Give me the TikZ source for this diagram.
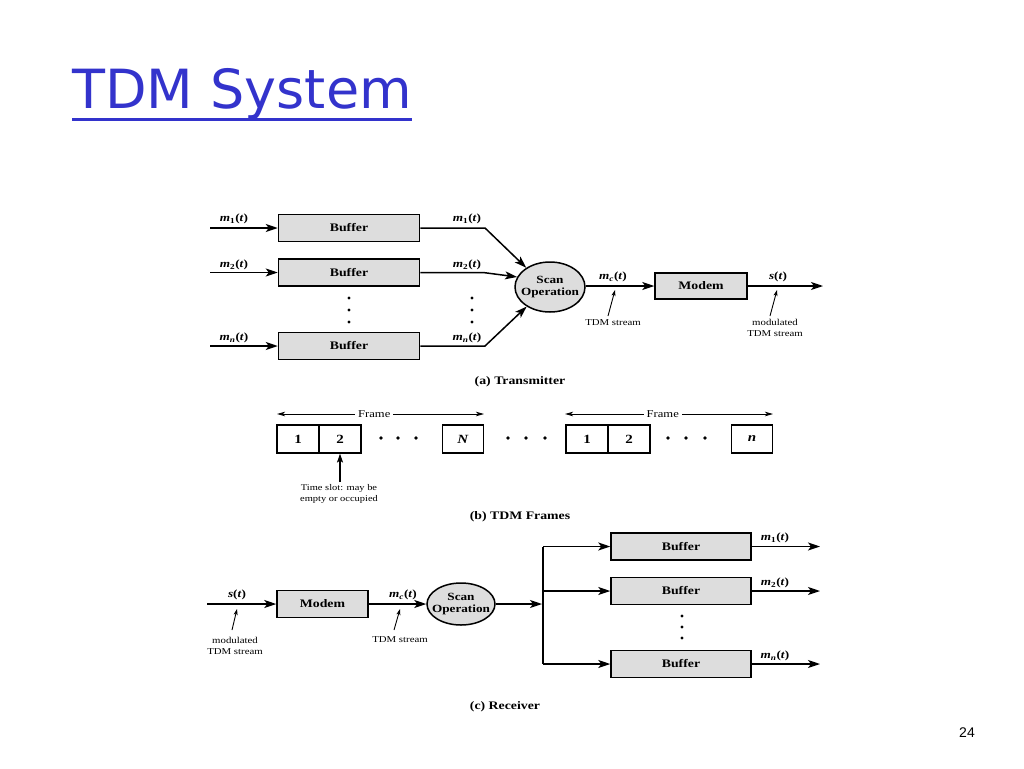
\documentclass[tikz,border=0pt]{standalone}
\usepackage{fontspec}
\setmainfont{Liberation Serif}
\newfontfamily\tf[FakeStretch=1.2]{Liberation Serif}
\newfontfamily\titlefont{DejaVu Sans}
\newfontfamily\pgfont{Liberation Sans}
\usetikzlibrary{arrows.meta,shapes.geometric}
\definecolor{boxgray}{RGB}{221,221,221}
\definecolor{titleblue}{RGB}{51,51,204}
\newcommand{\msig}[1]{\textbf{\textit{m}\textsubscript{#1}(\textit{t})}}
\begin{document}
\begin{tikzpicture}[x=1pt,y=-1pt,
 buf/.style={draw,line width=1.5pt,fill=boxgray,minimum width=141pt,minimum height=27pt,inner sep=0pt,font=\tf\bfseries\fontsize{11.5}{12}\selectfont},
 modembox/.style={draw,line width=1.5pt,fill=boxgray,minimum width=92pt,minimum height=26pt,inner sep=0pt,font=\tf\bfseries\fontsize{11.5}{12}\selectfont},
 scanop/.style={draw,ellipse,line width=1.5pt,fill=boxgray,inner xsep=-5pt,inner ysep=0pt,align=center,font=\tf\bfseries\fontsize{11}{11.5}\selectfont},
 slotbox/.style={draw,line width=1.1pt,minimum width=42pt,minimum height=28pt,inner sep=0pt,font=\tf\bfseries\fontsize{12.5}{13}\selectfont},
 lab/.style={inner sep=0pt,font=\tf\fontsize{11}{12}\selectfont},
 smalltxt/.style={inner sep=0pt,align=center,font=\tf\fontsize{9}{11}\selectfont},
 captxt/.style={inner sep=0pt,font=\tf\bfseries\fontsize{11.5}{13}\selectfont},
 plainline/.style={line width=1.5pt},
 arr/.style={line width=1.5pt,-{Stealth[length=12pt,width=8pt,inset=3pt]}},
 ann/.style={line width=0.9pt,-{Stealth[length=6pt,width=4pt,inset=1.5pt]}},
 farr/.style={line width=0.9pt,{Stealth[length=8pt,width=4.5pt,inset=2pt]}-{Stealth[length=8pt,width=4.5pt,inset=2pt]}},
 upar/.style={line width=1.1pt,-{Stealth[length=9pt,width=6pt,inset=2pt]}},
 dotnode/.style={circle,fill=black,inner sep=0pt,minimum size=3.2pt}
]
\useasboundingbox (0,0) rectangle (1024,768);

% title
\node[anchor=base west,inner sep=0pt,text=titleblue,font=\titlefont\fontsize{54}{60}\selectfont] (title) at (72,108) {TDM System};
\draw[titleblue,line width=3pt] ([yshift=-11pt]title.base west) -- ([yshift=-11pt]title.base east);
\node[anchor=center,inner sep=0pt,font=\pgfont\fontsize{14}{16}\selectfont] (pg) at (967,733) {24};

% ---------------- (a) Transmitter
\node[buf] (tb1) at (349,228) {Buffer};
\node[buf] (tb2) at (349,272.5) {Buffer};
\node[buf] (tb3) at (349,346) {Buffer};
\coordinate (ti1) at (210,228);
\coordinate (ti2) at (210,272.5);
\coordinate (ti3) at (210,346);
\draw[arr] (ti1) -- (tb1.west);
\draw[arr] (ti2) -- (tb2.west);
\draw[arr] (ti3) -- (tb3.west);
\node[lab] (li1) at (234,219) {\msig{1}};
\node[lab] (li2) at (234,265) {\msig{2}};
\node[lab] (li3) at (234,338) {\msig{\textit{n}}};
\node[lab] (lo1) at (467,219) {\msig{1}};
\node[lab] (lo2) at (467,265) {\msig{2}};
\node[lab] (lo3) at (467,338) {\msig{\textit{n}}};

\node[scanop,minimum width=70pt,minimum height=50pt] (sc1) at (550,287) {Scan\\Operation};
\coordinate (tc1) at (485,228);
\coordinate (tc2) at (483,272.5);
\coordinate (tc3) at (485,346);
\draw[arr] (tb1.east) -- (tc1) -- (sc1.141);
\draw[arr] (tb2.east) -- (tc2) -- (sc1.163);
\draw[arr] (tb3.east) -- (tc3) -- (sc1.220);

\foreach \yy in {298,310,322} {
  \node[dotnode] at (349,\yy) {};
  \node[dotnode] at (472,\yy) {};
}

\node[modembox] (tm) at (701,286) {Modem};
\draw[arr] (sc1.east |- tm.west) -- (tm.west);
\coordinate (tout) at (823,286);
\draw[arr] (tm.east) -- (tout);
\node[lab] (lmc1) at (613,277) {\textbf{\textit{m}\textsubscript{\textit{c}}(\textit{t})}};
\node[lab] (ls1) at (778,277) {\textbf{\textit{s}(\textit{t})}};

\node[smalltxt] (ttdm) at (613,323) {TDM stream};
\coordinate (ta1s) at (608,316);
\coordinate (ta1e) at (615,290);
\draw[ann] (ta1s) -- (ta1e);
\node[smalltxt] (tmod) at (775,327.5) {modulated\\TDM stream};
\coordinate (ta2s) at (770,316);
\coordinate (ta2e) at (777,290);
\draw[ann] (ta2s) -- (ta2e);

\node[captxt] (capa) at (520,382) {(a) Transmitter};

% ---------------- (b) TDM Frames
\coordinate (f1l) at (277,414);
\coordinate (f1r) at (484,414);
\draw[farr] (f1l) -- node[pos=0.47,fill=white,inner xsep=3pt,inner ysep=0pt,font=\tf\fontsize{10.5}{12}\selectfont] (fr1) {Frame} (f1r);
\coordinate (f2l) at (565,414);
\coordinate (f2r) at (773,414);
\draw[farr] (f2l) -- node[pos=0.47,fill=white,inner xsep=3pt,inner ysep=0pt,font=\tf\fontsize{10.5}{12}\selectfont] (fr2) {Frame} (f2r);

\node[slotbox] (s1) at (298,439) {1};
\node[slotbox] (s2) at (340,439) {2};
\node[slotbox,minimum width=41pt] (sN) at (463,439) {\textit{N}};
\node[slotbox] (s1b) at (587,439) {1};
\node[slotbox] (s2b) at (629,439) {2};
\node[slotbox,minimum width=41pt] (sn) at (752,439) {\textit{n}};
\foreach \xx in {381,398,416,508,526,545,668,686,705} {
  \node[dotnode,minimum size=3.6pt] at (\xx,438) {};
}
\coordinate (tsa) at (340,482);
\draw[upar] (tsa) -- (s2.south);
\node[smalltxt,font=\tf\fontsize{8.7}{10.5}\selectfont] (tslot) at (339,494) {Time slot: may be\\empty or occupied};
\node[captxt] (capb) at (520,517) {(b) TDM Frames};

% ---------------- (c) Receiver
\coordinate (rin) at (207,604);
\node[modembox,minimum width=91pt,minimum height=27pt] (rm) at (322.5,604) {Modem};
\draw[arr] (rin) -- (rm.west);
\node[scanop,minimum width=68pt,minimum height=42pt] (sc2) at (461,604) {Scan\\Operation};
\draw[arr] (rm.east) -- (sc2.west);
\coordinate (bus) at (543,604);
\draw[arr,shorten >=1pt] (sc2.east) -- (bus);
\node[buf,minimum width=140pt] (rb1) at (681,546.5) {Buffer};
\node[buf,minimum width=140pt] (rb2) at (681,591) {Buffer};
\node[buf,minimum width=140pt] (rb3) at (681,664) {Buffer};
\coordinate (bt) at (543,546.5);
\coordinate (bb) at (543,664);
\draw[plainline] (bt) -- (bb);
\draw[arr] (bt) -- (rb1.west);
\draw[arr] (bus |- rb2.west) -- (rb2.west);
\draw[arr] (bb) -- (rb3.west);
\coordinate (ro1) at (820,546.5);
\coordinate (ro2) at (820,591);
\coordinate (ro3) at (820,664);
\draw[arr] (rb1.east) -- (ro1);
\draw[arr] (rb2.east) -- (ro2);
\draw[arr] (rb3.east) -- (ro3);
\node[lab] (rl1) at (775,538) {\msig{1}};
\node[lab] (rl2) at (775,583) {\msig{2}};
\node[lab] (rl3) at (775,656) {\msig{\textit{n}}};
\foreach \yy in {616,627,638} {
  \node[dotnode] at (682,\yy) {};
}
\node[lab] (rls) at (237,595) {\textbf{\textit{s}(\textit{t})}};
\node[lab] (rlmc) at (403,595) {\textbf{\textit{m}\textsubscript{\textit{c}}(\textit{t})}};
\node[smalltxt] (rmod) at (235,645.5) {modulated\\TDM stream};
\coordinate (ra1s) at (232,630);
\coordinate (ra1e) at (237,609);
\draw[ann] (ra1s) -- (ra1e);
\node[smalltxt] (rtdm) at (400,640) {TDM stream};
\coordinate (ra2s) at (394,630);
\coordinate (ra2e) at (400,609);
\draw[ann] (ra2s) -- (ra2e);
\node[captxt] (capc) at (505,707) {(c) Receiver};
\end{tikzpicture}
\end{document}
